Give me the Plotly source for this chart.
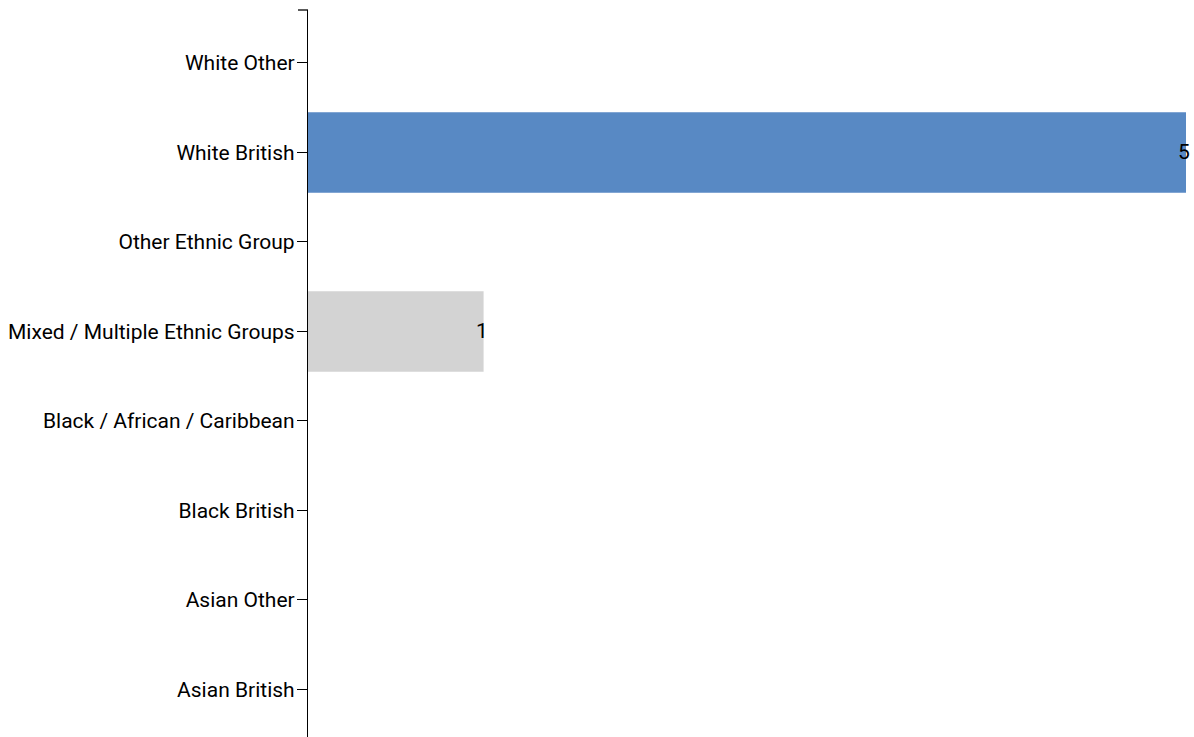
import plotly.graph_objects as go

categories = ["Asian British", "Asian Other", "Black British", "Black / African / Caribbean",
              "Mixed / Multiple Ethnic Groups", "Other Ethnic Group", "White British", "White Other"]
values = [0, 0, 0, 0, 1, 0, 5, 0]
colors = ["#d3d3d3", "#d3d3d3", "#d3d3d3", "#d3d3d3", "#d3d3d3", "#d3d3d3", "#5889c4", "#d3d3d3"]

fig = go.Figure()
fig.add_trace(go.Bar(
    y=categories, x=values, orientation="h",
    marker=dict(color=colors, line=dict(width=0)),
    width=0.9, hoverinfo="skip",
))

for c, v in zip(categories, values):
    if v > 0:
        fig.add_annotation(x=v, y=c, text=str(v), showarrow=False,
                           xanchor="right", yanchor="middle", xshift=6,
                           font=dict(family="Roboto", size=21, color="#000"))

fig.add_shape(type="line", xref="paper", yref="paper", xsizemode="pixel", xanchor=0,
              x0=-10, x1=0, y0=1, y1=1, line=dict(color="#000", width=1.3))

fig.update_layout(
    width=1194, height=737,
    margin=dict(l=308, r=8, t=10, b=0),
    paper_bgcolor="white", plot_bgcolor="white",
    showlegend=False,
    font=dict(family="Roboto", size=21, color="#000"),
    xaxis=dict(range=[0, 5], visible=False, fixedrange=True),
    yaxis=dict(type="category", categoryorder="array", categoryarray=categories,
               range=[-0.531, 7.592], showline=True, linecolor="#000", linewidth=1.3,
               ticks="outside", ticklen=10, tickcolor="#000", tickwidth=1.3,
               showgrid=False, zeroline=False, ticklabelstandoff=-2,
               tickfont=dict(family="Roboto", size=21, color="#000")),
    bargap=0.1,
)

fig.write_html("out.html", config={"displayModeBar": False},
               post_script="document.body.style.margin='0';document.body.style.overflow='hidden';")
